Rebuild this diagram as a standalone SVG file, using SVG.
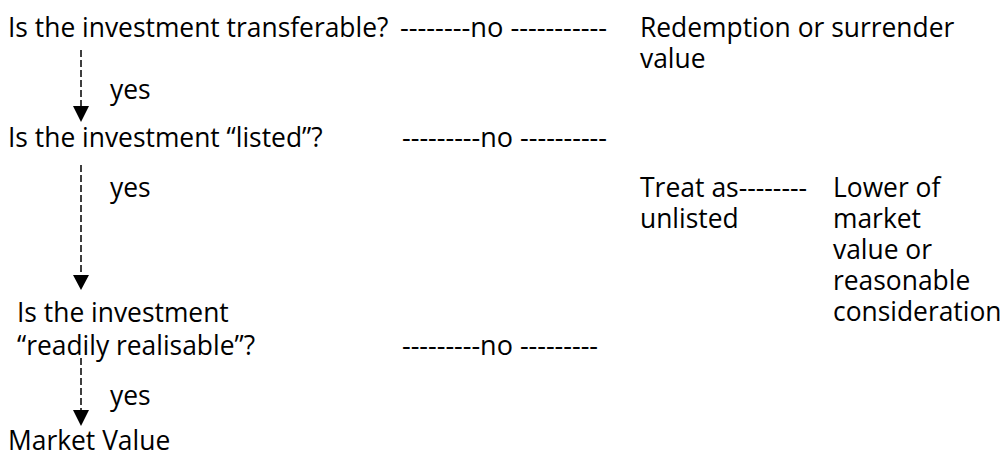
<svg xmlns="http://www.w3.org/2000/svg" width="1002" height="451" viewBox="0 0 1002 451">
<style>
text{font-family:"Open Sans","Noto Sans","Liberation Sans",sans-serif;font-size:26.4px;fill:#000}
.conn{stroke:#000;stroke-width:1.5;stroke-dasharray:7,3;fill:none}
.head{fill:#000}
</style>
<rect width="1002" height="451" fill="#fff"/>
<g id="connectors">
<line class="conn" x1="81" y1="50" x2="81" y2="106"/>
<path class="head" d="M73,106 L89,106 L81,122 Z"/>
<line class="conn" x1="81" y1="165" x2="81" y2="275"/>
<path class="head" d="M73,275 L89,275 L81,290 Z"/>
<line class="conn" x1="81" y1="358" x2="81" y2="410"/>
<path class="head" d="M73,410 L89,410 L81,426 Z"/>
</g>
<g id="q1"><text x="8" y="37">Is the investment transferable?</text><text x="400" y="37" textLength="207" lengthAdjust="spacingAndGlyphs">--------no -----------</text></g>
<g id="redemption"><text x="640" y="37">Redemption or surrender</text><text x="640" y="68">value</text></g>
<g id="yes1"><text x="110" y="99">yes</text></g>
<g id="q2"><text x="8" y="147">Is the investment “listed”?</text><text x="402" y="147" textLength="205" lengthAdjust="spacingAndGlyphs">---------no ----------</text></g>
<g id="yes2"><text x="110" y="197">yes</text></g>
<g id="treat"><text x="640" y="197" textLength="167" lengthAdjust="spacingAndGlyphs">Treat as--------</text><text x="640" y="228">unlisted</text></g>
<g id="lower"><text x="833" y="197">Lower of</text><text x="833" y="228">market</text><text x="833" y="259">value or</text><text x="833" y="290">reasonable</text><text x="833" y="321">consideration</text></g>
<g id="q3"><text x="17" y="322">Is the investment</text><text x="17" y="355">“readily realisable”?</text><text x="402" y="355" textLength="196" lengthAdjust="spacingAndGlyphs">---------no ---------</text></g>
<g id="yes3"><text x="110" y="405">yes</text></g>
<g id="market"><text x="8" y="450">Market Value</text></g>
</svg>
